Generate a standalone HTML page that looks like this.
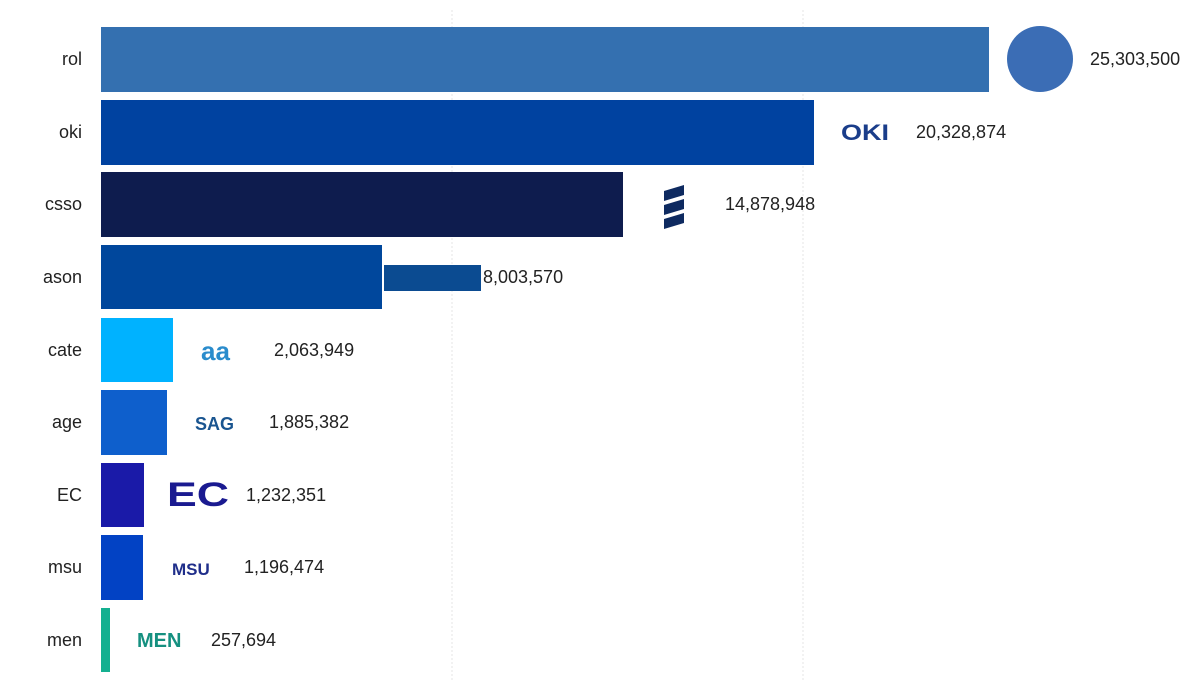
<!DOCTYPE html>
<html><head><meta charset="utf-8"><style>
body{margin:0;background:#fff;}
svg{display:block;font-family:"Liberation Sans",sans-serif;}
.l{font-size:18px;fill:#222;text-anchor:end;}
.v{font-size:18px;fill:#222;}
</style></head><body>
<svg width="1194" height="690" viewBox="0 0 1194 690">
<line x1="452" y1="10" x2="452" y2="680" stroke="#e4e4e4" stroke-dasharray="2,2"/>
<line x1="803" y1="10" x2="803" y2="680" stroke="#e4e4e4" stroke-dasharray="2,2"/>
<rect x="101" y="27" width="888" height="65" fill="#3470b0"/>
<rect x="101" y="100" width="713" height="65" fill="#0042a0"/>
<rect x="101" y="172" width="522" height="65" fill="#0e1c4e"/>
<rect x="101" y="245" width="281" height="64" fill="#00479c"/>
<rect x="101" y="318" width="72" height="64" fill="#00b2ff"/>
<rect x="101" y="390" width="66" height="65" fill="#0e5fcc"/>
<rect x="101" y="463" width="43" height="64" fill="#1a1aa8"/>
<rect x="101" y="535" width="42" height="65" fill="#0242c4"/>
<rect x="101" y="608" width="9" height="64" fill="#14b090"/>
<g class="l">
<text x="82" y="65">rol</text><text x="82" y="138">oki</text><text x="82" y="210">csso</text>
<text x="82" y="283">ason</text><text x="82" y="356">cate</text><text x="82" y="428">age</text>
<text x="82" y="501">EC</text><text x="82" y="573">msu</text><text x="82" y="646">men</text>
</g>
<circle cx="1040" cy="59" r="33" fill="#3b6db5"/>
<text x="841" y="140" font-size="22" font-weight="bold" fill="#1a3d8a" textLength="48" lengthAdjust="spacingAndGlyphs">OKI</text>
<g fill="#0e2a60"><polygon points="664,191 684,185 684,195 664,201"/><polygon points="664,205 684,199 684,209 664,215"/><polygon points="664,219 684,213 684,223 664,229"/></g>
<rect x="384" y="265" width="97" height="26" fill="#0b4b91"/>
<text x="201" y="360" font-size="26" font-weight="bold" fill="#2a8ccc">aa</text>
<text x="195" y="430" font-size="18" font-weight="bold" fill="#1a5590">SAG</text>
<text x="167" y="506" font-size="34" font-weight="bold" fill="#1a1a90" textLength="62" lengthAdjust="spacingAndGlyphs">EC</text>
<text x="172" y="575" font-size="17" font-weight="bold" fill="#1f2e8a">MSU</text>
<text x="137" y="647" font-size="20" font-weight="bold" fill="#159080">MEN</text>
<g class="v">
<text x="1090" y="65">25,303,500</text><text x="916" y="138">20,328,874</text>
<text x="725" y="210">14,878,948</text><text x="483" y="283">8,003,570</text>
<text x="274" y="356">2,063,949</text><text x="269" y="428">1,885,382</text>
<text x="246" y="501">1,232,351</text><text x="244" y="573">1,196,474</text>
<text x="211" y="646">257,694</text>
</g>
</svg>
</body></html>
